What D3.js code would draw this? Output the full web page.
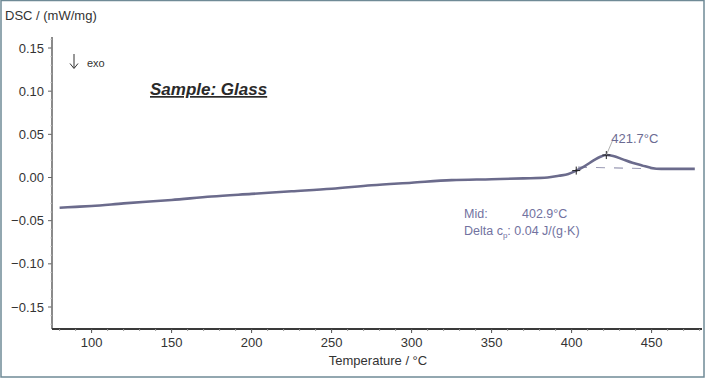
<!DOCTYPE html>
<html><head><meta charset="utf-8">
<script src="https://cdn.jsdelivr.net/npm/d3@7"></script>
<style>body{margin:0;background:#fff}svg{display:block;font-family:"Liberation Sans",Arial,sans-serif}</style>
</head><body><svg id="c" width="708" height="380"></svg>
<script>
const temps = [80,90,100,120,150,175,200,225,250,275,300,325,350,370,385,392,398,402.9,408,414,418,421.7,426,432,438,444,450,456,462,470,477];
const dsc   = [-0.035,-0.034,-0.033,-0.030,-0.026,-0.022,-0.019,-0.016,-0.013,-0.009,-0.006,-0.003,-0.002,-0.001,0.000,0.002,0.004,0.008,0.013,0.020,0.024,0.026,0.025,0.021,0.017,0.014,0.011,0.010,0.010,0.010,0.010];
const xTicks = [100,150,200,250,300,350,400,450];
const yTicks = [0.15,0.10,0.05,0.00,-0.05,-0.10,-0.15];
const baseT = [404,455];
const baseV = [0.012,0.010];
const midT = 402.9, midV = 0.008, peakT = 421.7, peakV = 0.026;

const svg = d3.select("#c");
const x = d3.scaleLinear().domain([75.25,481.5]).range([52,702]);
const y = d3.scaleLinear().domain([-0.15,0.15]).range([307,48]);

// frame
svg.append("rect").attr("x",1).attr("y",0.5).attr("width",703).attr("height",376.5)
  .attr("fill","none").attr("stroke","#6f8a96").attr("stroke-width",1.5);

// y axis
const yAx = svg.append("g").attr("transform","translate(52,0)");
yAx.append("line").attr("x1",0).attr("x2",0).attr("y1",37).attr("y2",329).attr("stroke","#8a8a8a").attr("stroke-width",2);
d3.range(-0.17,0.161,0.01).forEach(v=>{
  yAx.append("line").attr("x1",-1.5).attr("x2",0).attr("y1",y(v)).attr("y2",y(v)).attr("stroke","#bbb");
});
yTicks.forEach(v=>{
  yAx.append("line").attr("x1",-4).attr("x2",0).attr("y1",y(v)).attr("y2",y(v)).attr("stroke","#666");
  yAx.append("text").attr("x",-8).attr("y",y(v)+4.5).attr("text-anchor","end")
    .attr("font-size",13).attr("fill","#333").text(d3.format(".2f")(v));
});

// x axis
const xAx = svg.append("g").attr("transform","translate(0,329)");
xAx.append("line").attr("x1",52).attr("x2",702).attr("y1",0).attr("y2",0).attr("stroke","#3a3a3a").attr("stroke-width",2);
d3.range(80,481,10).forEach(v=>{
  xAx.append("line").attr("x1",x(v)).attr("x2",x(v)).attr("y1",0).attr("y2",2).attr("stroke","#999");
});
xTicks.forEach(v=>{
  xAx.append("line").attr("x1",x(v)).attr("x2",x(v)).attr("y1",0).attr("y2",4).attr("stroke","#555");
  xAx.append("text").attr("x",x(v)).attr("y",18).attr("text-anchor","middle")
    .attr("font-size",13).attr("fill","#333").text(v);
});
svg.append("text").attr("x",378).attr("y",365).attr("text-anchor","middle").attr("font-size",13).attr("fill","#333").text("Temperature / °C");
svg.append("text").attr("x",5).attr("y",20).attr("font-size",13).attr("fill","#333").text("DSC / (mW/mg)");

// baseline dashes
svg.append("line").attr("x1",x(baseT[0])).attr("x2",x(baseT[1])).attr("y1",y(baseV[0])).attr("y2",y(baseV[1]))
  .attr("stroke","#9a9ab4").attr("stroke-width",1.1).attr("stroke-dasharray","9,9");

// curve
svg.append("path").datum(temps.map((t,i)=>[t,dsc[i]]))
  .attr("d",d3.line().x(d=>x(d[0])).y(d=>y(d[1])).curve(d3.curveMonotoneX))
  .attr("fill","none").attr("stroke","#6b6b8c").attr("stroke-width",2.6);

// markers
[[midT,midV],[peakT,peakV]].forEach(([t,v])=>{
  svg.append("line").attr("x1",x(t)-4).attr("x2",x(t)+4).attr("y1",y(v)).attr("y2",y(v)).attr("stroke","#222").attr("stroke-width",1);
  svg.append("line").attr("x1",x(t)).attr("x2",x(t)).attr("y1",y(v)-4).attr("y2",y(v)+4).attr("stroke","#222").attr("stroke-width",1);
});
svg.append("line").attr("x1",x(peakT)).attr("x2",x(peakT)+6).attr("y1",y(peakV)).attr("y2",y(peakV)-14).attr("stroke","#999").attr("stroke-width",0.8);
svg.append("text").attr("x",x(peakT)+5).attr("y",y(peakV)-12).attr("font-size",13).attr("fill","#6b6b92").text("421.7°C");

// annotations
svg.append("text").attr("x",464).attr("y",218).attr("font-size",12.5).attr("fill","#7272a0").text("Mid:");
svg.append("text").attr("x",522).attr("y",218).attr("font-size",12.5).attr("fill","#7272a0").text("402.9°C");
const dt = svg.append("text").attr("x",464).attr("y",235).attr("font-size",12.5).attr("fill","#7272a0");
dt.append("tspan").text("Delta c");
dt.append("tspan").attr("font-size",8).attr("dy",3).text("p");
dt.append("tspan").attr("dy",-3).text(": 0.04 J/(g·K)");

// exo arrow (drawn)
svg.append("path").attr("d","M74,54 L74,68 M70,63.5 L74,68.5 L78,63.5")
  .attr("fill","none").attr("stroke","#333").attr("stroke-width",1);
svg.append("text").attr("x",87).attr("y",67).attr("font-size",11).attr("fill","#333").text("exo");
svg.append("text").attr("x",150).attr("y",95).attr("font-size",17).attr("font-weight","bold").attr("font-style","italic")
  .attr("text-decoration","underline").attr("fill","#2a2a2a").text("Sample: Glass");
</script></body></html>
